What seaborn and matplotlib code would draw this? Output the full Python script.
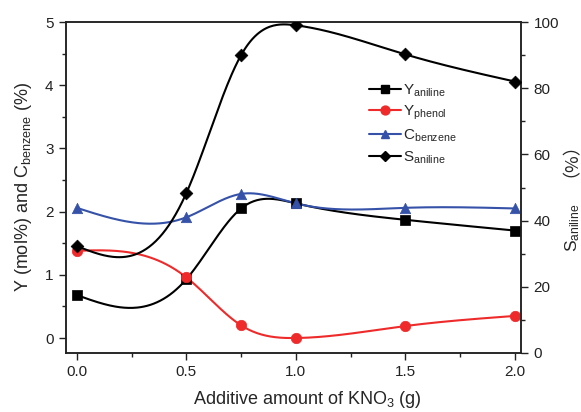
import numpy as np
import pandas as pd
import matplotlib
matplotlib.use("Agg")
import matplotlib.pyplot as plt
from matplotlib.lines import Line2D
from matplotlib.ticker import MultipleLocator
import seaborn as sns

# ---- data ----
kno3 = [0.0, 0.5, 0.75, 1.0, 1.5, 2.0]
y_aniline = [0.68, 0.93, 2.05, 2.13, 1.87, 1.70]
y_phenol = [1.38, 0.96, 0.20, 0.00, 0.19, 0.35]
c_benzene = [2.06, 1.91, 2.28, 2.13, 2.06, 2.05]
s_aniline = [32.3, 48.3, 90.0, 99.0, 90.2, 82.0]

x_ticks = [0.0, 0.5, 1.0, 1.5, 2.0]
x_tick_labels = ["0.0", "0.5", "1.0", "1.5", "2.0"]

sns.set_theme(style="ticks")
plt.rcParams["font.family"] = ["Liberation Sans", "DejaVu Sans"]
plt.rcParams["mathtext.fontset"] = "custom"
plt.rcParams["mathtext.rm"] = "Liberation Sans"
plt.rcParams["mathtext.it"] = "Liberation Sans:italic"
plt.rcParams["mathtext.bf"] = "Liberation Sans:bold"


def natural_spline(x, y, xs):
    x = np.asarray(x, float)
    y = np.asarray(y, float)
    n = len(x)
    h = np.diff(x)
    A = np.zeros((n, n))
    b = np.zeros(n)
    A[0, 0] = 1
    A[-1, -1] = 1
    for i in range(1, n - 1):
        A[i, i - 1] = h[i - 1]
        A[i, i] = 2 * (h[i - 1] + h[i])
        A[i, i + 1] = h[i]
        b[i] = 6 * ((y[i + 1] - y[i]) / h[i] - (y[i] - y[i - 1]) / h[i - 1])
    M = np.linalg.solve(A, b)
    out = np.empty_like(xs)
    for k, xv in enumerate(xs):
        i = min(max(np.searchsorted(x, xv) - 1, 0), n - 2)
        t0 = x[i + 1] - xv
        t1 = xv - x[i]
        out[k] = (M[i] * t0 ** 3 + M[i + 1] * t1 ** 3) / (6 * h[i]) + \
                 (y[i] / h[i] - M[i] * h[i] / 6) * t0 + \
                 (y[i + 1] / h[i] - M[i + 1] * h[i] / 6) * t1
    return out


xs = np.linspace(kno3[0], kno3[-1], 400)

W, H = 581, 412
fig = plt.figure(figsize=(W / 100, H / 100), dpi=100)
ax = fig.add_axes([66 / W, (H - 353) / H, 455 / W, 331 / H])
ax2 = ax.twinx()

black = "#000000"
red = "#ee2a2a"
blue = "#3552a8"

series = [
    (ax, y_aniline, black, "s", 6.5, r"Y$_{\mathrm{aniline}}$"),
    (ax, y_phenol, red, "o", 7.5, r"Y$_{\mathrm{phenol}}$"),
    (ax, c_benzene, blue, "^", 7.5, r"C$_{\mathrm{benzene}}$"),
    (ax2, s_aniline, black, "D", 6.5, r"S$_{\mathrm{aniline}}$"),
]

handles = []
for a, vals, col, mk, ms, lab in series:
    smooth = pd.DataFrame({"x": xs, "y": natural_spline(kno3, vals, xs)})
    sns.lineplot(data=smooth, x="x", y="y", ax=a, color=col, lw=1.5,
                 legend=False, zorder=2)
    pts = pd.DataFrame({"x": kno3, "y": vals})
    sns.scatterplot(data=pts, x="x", y="y", ax=a, color=col, marker=mk,
                    s=ms ** 2, edgecolor=col, linewidth=0.5, legend=False,
                    zorder=3)
    handles.append(Line2D([], [], color=col, marker=mk, markersize=ms * 0.85,
                          lw=1.5, label=lab))

ax.set_xlim(-0.049, 2.027)
ax.set_ylim(-0.237, 5.0)
ax2.set_ylim(0, 100)

ax.set_xticks(x_ticks)
ax.set_xticklabels(x_tick_labels)
ax.xaxis.set_minor_locator(MultipleLocator(0.25))
ax.yaxis.set_major_locator(MultipleLocator(1))
ax.yaxis.set_minor_locator(MultipleLocator(0.5))
ax2.yaxis.set_major_locator(MultipleLocator(20))
ax2.yaxis.set_minor_locator(MultipleLocator(10))

for a in (ax, ax2):
    for sp in a.spines.values():
        sp.set_visible(True)
        sp.set_linewidth(1.1)
        sp.set_color("#222222")
    a.tick_params(which="major", direction="out", length=5, width=1.0,
                  labelsize=11, colors="#222222", pad=4)
    a.tick_params(which="minor", direction="out", length=3, width=1.0,
                  colors="#222222")
    a.set_xlabel("")
    a.set_ylabel("")

ax.set_xlabel(r"Additive amount of KNO$_3$ (g)", fontsize=13, va="top")
ax.xaxis.set_label_coords(0.53, -0.108)
ax.set_ylabel(r"Y (mol%) and C$_{\mathrm{benzene}}$ (%)", fontsize=13,
              labelpad=8)

# right label: S_aniline followed by full-width (%)
fig.text(577 / W, (H - 252) / H, r"S$_{\mathrm{aniline}}$", rotation=90,
         rotation_mode="anchor", fontsize=12.5, ha="left", va="baseline")
# the rotated CJK glyphs sit right of / below their layout box centre,
# so the box centre is placed so the visible glyphs land at about (572, 165)
fig.text(562 / W, (H - 151) / H, "（%）", rotation=90, fontsize=13,
         family=["Noto Sans CJK SC", "DejaVu Sans"],
         ha="center", va="center")

ax.legend(handles=handles, loc="center left",
          bbox_to_anchor=(0.666, 0.692), frameon=False, fontsize=11,
          handlelength=2.1, handletextpad=0.15, labelspacing=0.35,
          borderpad=0, borderaxespad=0)

fig.savefig("out.png", dpi=100)
